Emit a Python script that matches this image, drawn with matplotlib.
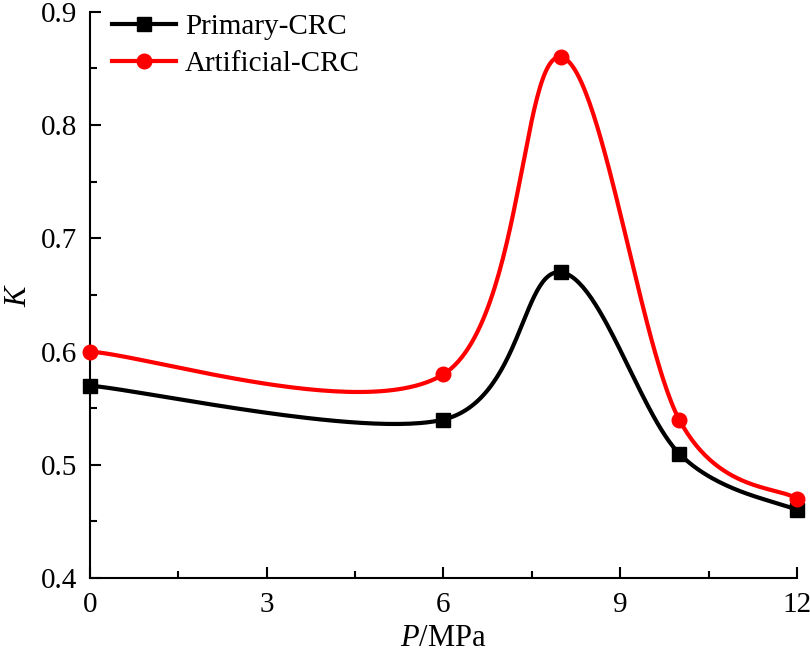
import numpy as np
import matplotlib.pyplot as plt
from matplotlib.ticker import MultipleLocator

plt.rcParams['font.family'] = ['Liberation Serif', 'DejaVu Serif']
plt.rcParams['mathtext.fontset'] = 'custom'
plt.rcParams['mathtext.it'] = 'Liberation Serif:italic'
plt.rcParams['mathtext.rm'] = 'Liberation Serif'

# data
pressure = [0, 6, 8, 10, 12]
k_primary = [0.57, 0.54, 0.67, 0.51, 0.46]
k_artificial = [0.60, 0.58, 0.86, 0.54, 0.47]


def bezier_line(x, y, n=60):
    # smooth connecting line through the points (Catmull-Rom style bezier),
    # only used to draw the curve between the markers
    p = np.column_stack([x, y]).astype(float)
    m = len(p)
    out = []
    t = np.linspace(0, 1, n)[:, None]
    for i in range(m - 1):
        prev = p[i - 1] if i > 0 else p[i]
        nxt = p[i + 2] if i + 2 < m else p[i + 1]
        b0 = p[i]
        b3 = p[i + 1]
        b1 = b0 + (p[i + 1] - prev) / 6
        b2 = b3 - (nxt - p[i]) / 6
        seg = ((1 - t) ** 3) * b0 + 3 * ((1 - t) ** 2) * t * b1 \
            + 3 * (1 - t) * t ** 2 * b2 + t ** 3 * b3
        out.append(seg)
    out = np.vstack(out)
    return out[:, 0], out[:, 1]


fig = plt.figure(figsize=(8.1, 6.54), dpi=100)
ax = fig.add_axes([0.111, 0.116, 0.873, 0.866])

series = [
    (k_primary, 'black', 's', 9.5, 'Primary-CRC'),
    (k_artificial, 'red', 'o', 10.5, 'Artificial-CRC'),
]
for vals, col, mk, ms, lab in series:
    xs, ys = bezier_line(pressure, vals)
    ax.plot(xs, ys, color=col, lw=3, zorder=2)
    ax.plot(pressure, vals, ls='none', marker=mk, color=col, ms=ms, zorder=3, clip_on=False)
    ax.plot([], [], color=col, lw=3, marker=mk, ms=ms, label=lab)

ax.set_xlim(0, 12)
ax.set_ylim(0.4, 0.9)
ax.xaxis.set_major_locator(MultipleLocator(3))
ax.xaxis.set_minor_locator(MultipleLocator(1.5))
ax.yaxis.set_major_locator(MultipleLocator(0.1))
ax.yaxis.set_minor_locator(MultipleLocator(0.05))
ax.tick_params(which='both', direction='in', labelsize=21, width=1.5)
ax.tick_params(which='major', length=8)
ax.tick_params(which='minor', length=5)
ax.tick_params(axis='x', which='major', pad=10)
ax.tick_params(axis='y', which='major', pad=9)
ax.set_yticklabels(['%.1f' % v for v in ax.get_yticks()])
for s in ['top', 'right']:
    ax.spines[s].set_visible(False)
for s in ['left', 'bottom']:
    ax.spines[s].set_linewidth(1.5)

ax.set_xlabel('$P$/MPa', fontsize=22, labelpad=4)
ax.set_ylabel('$K$', fontsize=22, labelpad=6)
ax.legend(loc='upper left', bbox_to_anchor=(0.031, 0.996), frameon=False,
          borderpad=0, borderaxespad=0,
          fontsize=21, handlelength=2.2, handletextpad=0.3, labelspacing=0.35)

fig.savefig('out.png', dpi=100)
